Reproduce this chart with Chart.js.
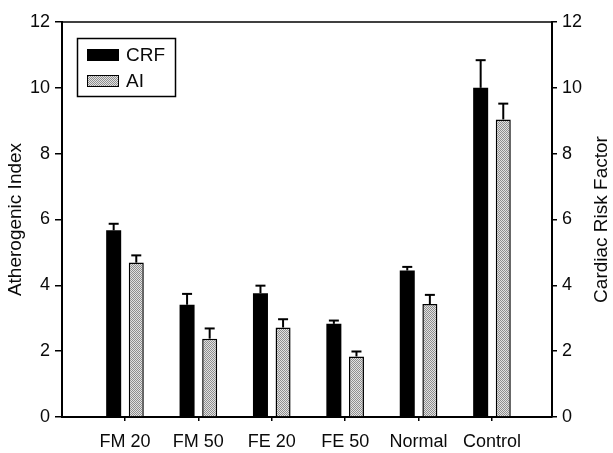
<!DOCTYPE html>
<html>
<head>
<meta charset="utf-8">
<script src="https://cdn.jsdelivr.net/npm/chart.js@4/dist/chart.umd.min.js"></script>
<style>
  html, body { margin: 0; padding: 0; background: #fff; }
  canvas { display: block; }
</style>
</head>
<body>
<canvas id="c" width="613" height="453"></canvas>
<script>
// ---- data ----
const categories = ["FM 20", "FM 50", "FE 20", "FE 50", "Normal", "Control"];
const crfValues = [5.67, 3.41, 3.76, 2.83, 4.45, 10.0];
const crfErrors = [0.20, 0.33, 0.23, 0.10, 0.11, 0.84];
const aiValues  = [4.69, 2.38, 2.72, 1.84, 3.43, 9.04];
const aiErrors  = [0.22, 0.31, 0.25, 0.15, 0.28, 0.48];
const yTicks = [0, 2, 4, 6, 8, 10, 12];
const seriesNames = ["CRF", "AI"];
const leftTitle = "Atherogenic Index";
const rightTitle = "Cardiac Risk Factor";

// ---- styles ----
const FONT = "'Liberation Sans', Arial, sans-serif";
const TEXT = '#0a0a0a';
function makePattern() {
  const p = document.createElement('canvas');
  p.width = 2; p.height = 2;
  const g = p.getContext('2d');
  g.fillStyle = '#e2e2e2'; g.fillRect(0, 0, 2, 2);
  g.fillStyle = '#8e8e8e'; g.fillRect(0, 0, 1, 1); g.fillRect(1, 1, 1, 1);
  return g.createPattern(p, 'repeat');
}
const grayFill = makePattern();

const errorSets = [crfErrors, aiErrors];

const errorBarPlugin = {
  id: 'errorBars',
  afterDatasetsDraw(chart) {
    const ctx = chart.ctx;
    const ys = chart.scales.y;
    ctx.save();
    ctx.strokeStyle = '#000';
    chart.data.datasets.forEach((ds, i) => {
      const meta = chart.getDatasetMeta(i);
      meta.data.forEach((el, j) => {
        const v = ds.data[j].y;
        const e = errorSets[i][j];
        const top = ys.getPixelForValue(v + e);
        ctx.lineWidth = 2;
        ctx.beginPath();
        ctx.moveTo(el.x, el.y);
        ctx.lineTo(el.x, top);
        ctx.stroke();
        ctx.beginPath();
        ctx.moveTo(el.x - 5, top);
        ctx.lineTo(el.x + 5, top);
        ctx.stroke();
      });
    });
    ctx.restore();
  },
  afterDraw(chart) {
    const ctx = chart.ctx;
    const a = chart.chartArea;
    ctx.save();
    // top frame line
    ctx.strokeStyle = '#000';
    ctx.lineWidth = 1.5;
    ctx.beginPath();
    ctx.moveTo(a.left, a.top);
    ctx.lineTo(a.right, a.top);
    ctx.stroke();
    // right axis title (reads bottom-to-top)
    ctx.fillStyle = TEXT;
    ctx.font = "19px " + FONT;
    ctx.textAlign = 'center';
    ctx.textBaseline = 'middle';
    ctx.translate(602, (a.top + a.bottom) / 2);
    ctx.rotate(-Math.PI / 2);
    ctx.fillText(rightTitle, 0, 0);
    ctx.restore();

    // legend box
    ctx.save();
    ctx.strokeStyle = '#000';
    ctx.lineWidth = 1.5;
    ctx.strokeRect(77.5, 38.5, 98, 58);
    const fills = ['#000', grayFill];
    const rowsY = [55, 81];
    ctx.font = "19px " + FONT;
    ctx.textBaseline = 'middle';
    ctx.textAlign = 'left';
    for (let i = 0; i < 2; i++) {
      ctx.fillStyle = fills[i];
      ctx.fillRect(87, rowsY[i] - 6, 32, 12);
      ctx.lineWidth = 1;
      ctx.strokeRect(87.5, rowsY[i] - 5.5, 31, 11);
      ctx.fillStyle = TEXT;
      ctx.fillText(chart.data.datasets[i].label, 126, rowsY[i] + 1);
    }
    ctx.restore();
  }
};

new Chart(document.getElementById('c'), {
  type: 'bar',
  data: {
    datasets: [
      {
        label: seriesNames[0],
        data: crfValues.map((v, i) => ({ x: i, y: v })),
        backgroundColor: '#000',
        borderColor: '#000',
        borderWidth: 0,
        categoryPercentage: 0.616,
        barPercentage: 0.664,
        yAxisID: 'y'
      },
      {
        label: seriesNames[1],
        data: aiValues.map((v, i) => ({ x: i, y: v })),
        backgroundColor: grayFill,
        borderColor: '#000',
        borderWidth: 1.5,
        categoryPercentage: 0.616,
        barPercentage: 0.664,
        yAxisID: 'y'
      }
    ]
  },
  options: {
    responsive: false,
    animation: false,
    events: [],
    layout: { padding: { top: 22, left: 0, right: 0, bottom: 0 } },
    plugins: {
      legend: { display: false },
      tooltip: { enabled: false }
    },
    scales: {
      x: {
        type: 'linear',
        offset: false,
        min: -0.858,
        max: 5.818,
        afterFit(s) { s.height = 36; },
        afterBuildTicks(s) { s.ticks = categories.map((c, i) => ({ value: i })); },
        grid: { display: true, offset: false, drawOnChartArea: false, drawTicks: true, tickLength: 4, color: '#000', lineWidth: 1.5 },
        border: { display: true, color: '#000', width: 2 },
        ticks: {
          callback: (v) => categories[v] !== undefined ? categories[v] : '',
          color: TEXT,
          font: { family: FONT, size: 18 },
          padding: 10,
          maxRotation: 0,
          autoSkip: false
        }
      },
      y: {
        position: 'left',
        min: 0,
        max: 12,
        afterFit(s) { s.width = 62; },
        afterBuildTicks(s) { s.ticks = yTicks.map(v => ({ value: v })); },
        grid: { display: true, drawOnChartArea: false, drawTicks: true, tickLength: 7, color: '#000', lineWidth: 1.5 },
        border: { display: true, color: '#000', width: 2 },
        ticks: { color: TEXT, font: { family: FONT, size: 18 }, padding: 5 },
        title: { display: true, text: leftTitle, color: TEXT, font: { family: FONT, size: 19 }, padding: { top: 4, bottom: 0 } }
      },
      y2: {
        position: 'right',
        min: 0,
        max: 12,
        afterFit(s) { s.width = 61; },
        afterBuildTicks(s) { s.ticks = yTicks.map(v => ({ value: v })); },
        grid: { display: true, drawOnChartArea: false, drawTicks: true, tickLength: 5, color: '#000', lineWidth: 1.5 },
        border: { display: true, color: '#000', width: 2 },
        ticks: { color: TEXT, font: { family: FONT, size: 18 }, padding: 5 }
      }
    }
  },
  plugins: [errorBarPlugin]
});
</script>
</body>
</html>
